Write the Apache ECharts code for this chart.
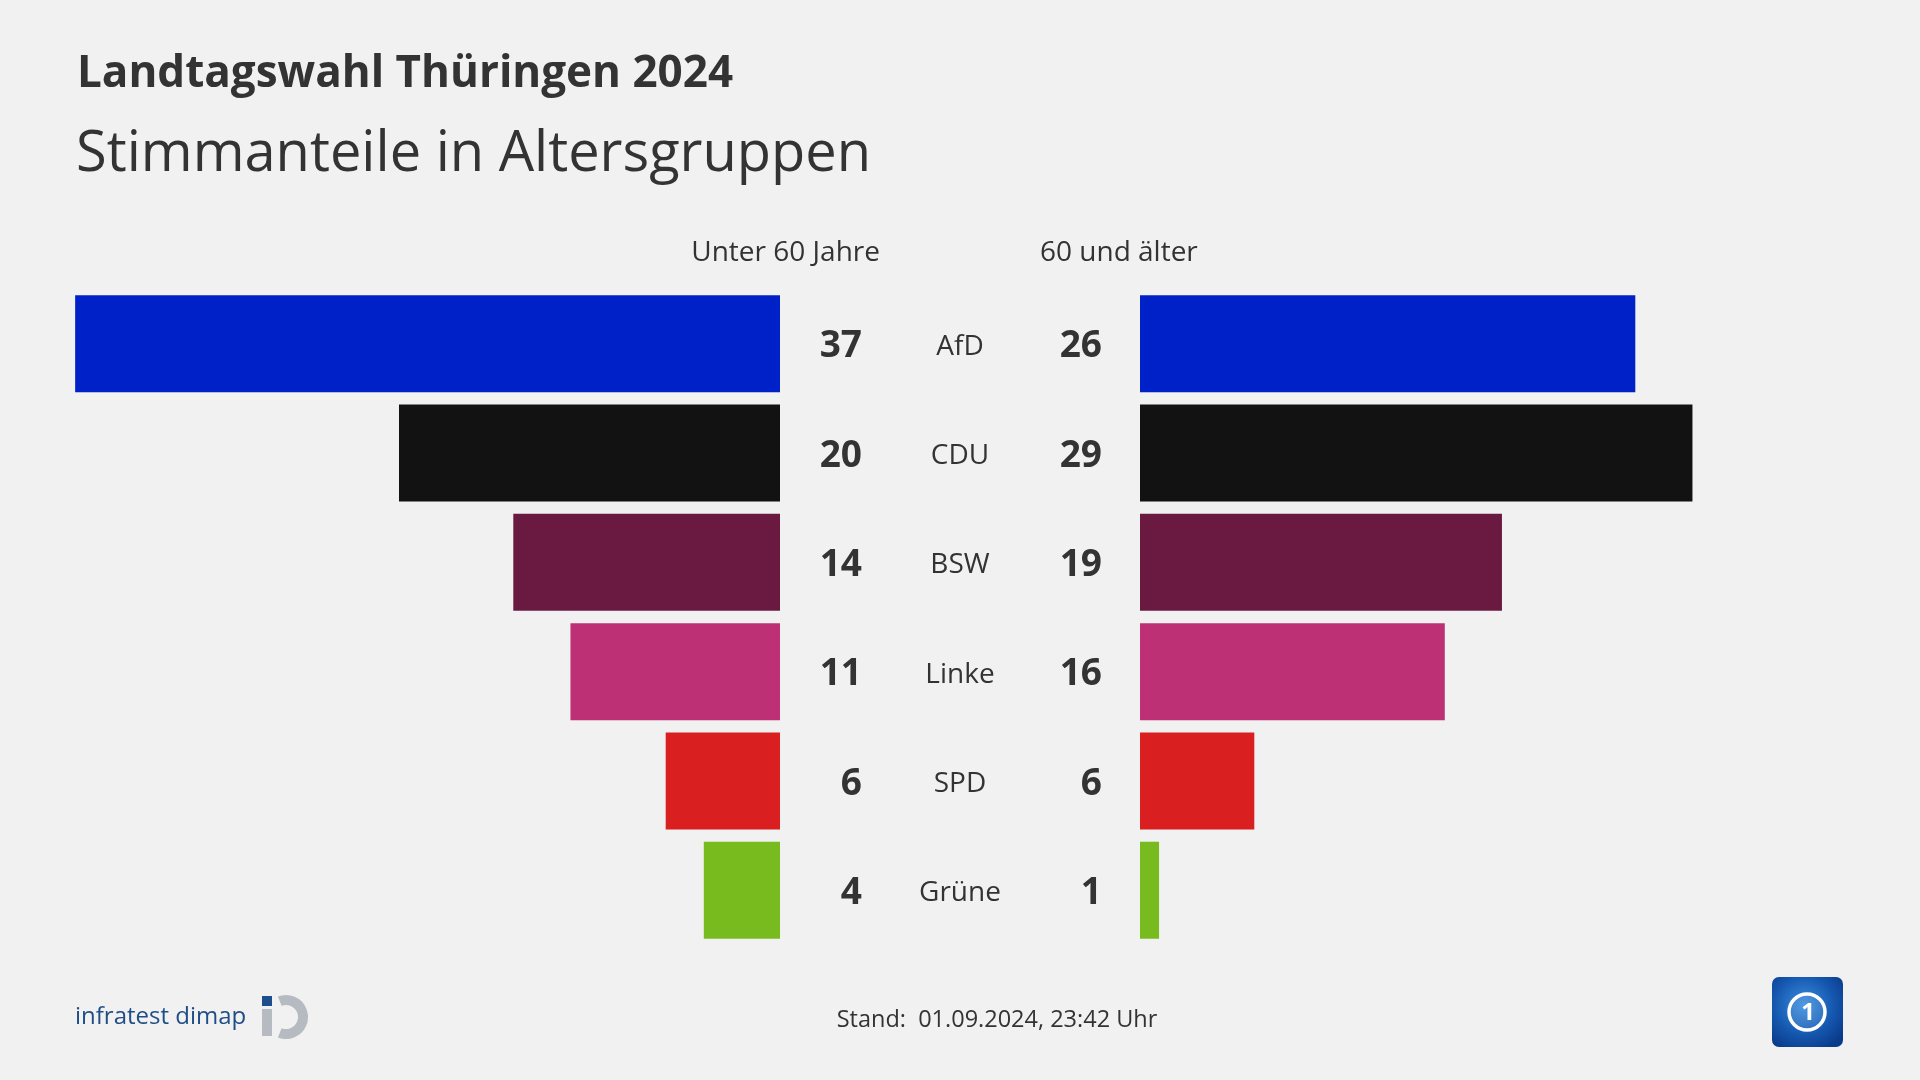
<!DOCTYPE html>
<html><head><meta charset="utf-8">
<script src="https://cdn.jsdelivr.net/npm/echarts@6/dist/echarts.min.js"></script>
<style>html,body{margin:0;padding:0;background:#f1f1f1;}#c{width:1920px;height:1080px;}</style>
</head><body><div id="c"></div>
<script>
const parties = ['AfD', 'CDU', 'BSW', 'Linke', 'SPD', 'Grüne'];
const under60 = [37, 20, 14, 11, 6, 4];
const over60 = [26, 29, 19, 16, 6, 1];
const colors = ['#0021c8', '#121212', '#6a1940', '#bd3075', '#d91f1f', '#78bb1e'];
const groupNames = ['Unter 60 Jahre', '60 und älter'];

const FONT = '"Open Sans", "Noto Sans", sans-serif';
const TXT = '#333333';
const chart = echarts.init(document.getElementById('c'), null, {renderer: 'canvas'});

function dataOf(vals) {
  return vals.map((v, i) => ({value: v, itemStyle: {color: colors[i]}}));
}

const option = {
  backgroundColor: '#f1f1f1',
  animation: false,
  title: [
    {text: 'Landtagswahl Thüringen 2024', left: 72, top: 47,
     textStyle: {fontFamily: FONT, fontWeight: 'bold', fontSize: 44, color: TXT}},
    {text: 'Stimmanteile in Altersgruppen', left: 71, top: 122,
     textStyle: {fontFamily: FONT, fontWeight: 'normal', fontSize: 56, color: TXT}}
  ],
  grid: [
    {left: 18, width: 762, top: 289, height: 656},
    {left: 1140, width: 762, top: 289, height: 656}
  ],
  xAxis: [
    {gridIndex: 0, type: 'value', min: 0, max: 40, inverse: true, show: false},
    {gridIndex: 1, type: 'value', min: 0, max: 40, show: false}
  ],
  yAxis: [
    {gridIndex: 0, type: 'category', data: parties, inverse: true, position: 'right',
     axisLine: {show: false}, axisTick: {show: false}, splitLine: {show: false},
     axisLabel: {margin: 180, align: 'center', color: TXT,
                 formatter: v => '{p|' + v + '}',
                 rich: {p: {fontFamily: FONT, fontSize: 28, color: TXT, padding: [6, 0, 0, 0]}}}},
    {gridIndex: 1, type: 'category', data: parties, inverse: true, show: false}
  ],
  series: [
    {type: 'bar', xAxisIndex: 0, yAxisIndex: 0, data: dataOf(under60), barWidth: 97,
     label: {show: true, position: 'right', distance: 82, align: 'right', offset: [0, 3],
             fontFamily: FONT, fontWeight: 'bold', fontSize: 37, color: TXT}},
    {type: 'bar', xAxisIndex: 1, yAxisIndex: 1, data: dataOf(over60), barWidth: 97,
     label: {show: true, position: 'left', distance: 38, align: 'right', offset: [0, 3],
             fontFamily: FONT, fontWeight: 'bold', fontSize: 37, color: TXT}}
  ],
  graphic: [
    {type: 'text', x: 880, y: 253, style: {text: groupNames[0], fill: TXT,
      font: '28px ' + FONT, textAlign: 'right', textVerticalAlign: 'middle'}},
    {type: 'text', x: 1040, y: 253, style: {text: groupNames[1], fill: TXT,
      font: '28px ' + FONT, textAlign: 'left', textVerticalAlign: 'middle'}},
    {type: 'text', x: 997, y: 1020, style: {text: 'Stand:  01.09.2024, 23:42 Uhr', fill: TXT,
      font: '23.5px ' + FONT, textAlign: 'center', textVerticalAlign: 'middle'}},
    // infratest dimap logo
    {type: 'text', x: 75, y: 1017, style: {text: 'infratest dimap', fill: '#1f4e86',
      font: '24px ' + FONT, textAlign: 'left', textVerticalAlign: 'middle'}},
    {type: 'rect', shape: {x: 262, y: 996, width: 10, height: 10}, style: {fill: '#1c4f8c'}},
    {type: 'rect', shape: {x: 262, y: 1009, width: 10, height: 27}, style: {fill: '#b5bbc1'}},
    {type: 'arc', shape: {cx: 286, cy: 1017, r: 17, startAngle: -Math.PI * 0.62, endAngle: Math.PI * 0.62, clockwise: true},
     style: {stroke: '#b5bbc1', lineWidth: 10, fill: null}},
    // ARD logo
    {type: 'rect', shape: {x: 1772, y: 977, width: 71, height: 70, r: 7},
     style: {fill: new echarts.graphic.RadialGradient(0.45, 0.4, 0.7, [
       {offset: 0, color: '#3c8fe0'}, {offset: 0.6, color: '#1558b0'}, {offset: 1, color: '#0a3a8a'}])}},
    {type: 'circle', shape: {cx: 1807, cy: 1012, r: 18}, style: {stroke: '#ffffff', lineWidth: 3.5, fill: 'rgba(255,255,255,0.1)'}},
    {type: 'text', x: 1808, y: 1013, style: {text: '1', fill: '#ffffff', font: 'bold 24px ' + FONT,
      textAlign: 'center', textVerticalAlign: 'middle'}}
  ]
};
chart.setOption(option);
</script></body></html>
